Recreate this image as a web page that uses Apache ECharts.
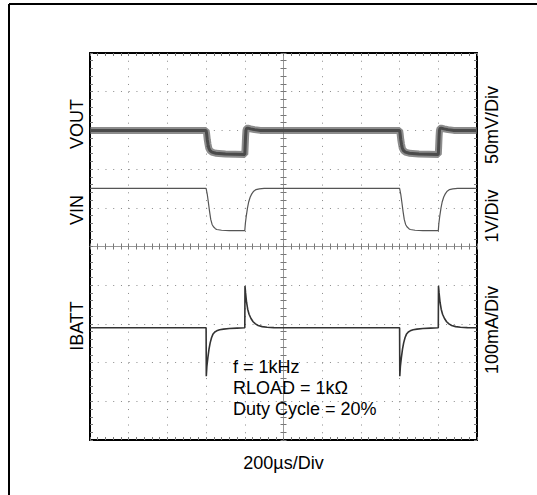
<!DOCTYPE html>
<html>
<head>
<meta charset="utf-8">
<script src="https://cdn.jsdelivr.net/npm/echarts@6/dist/echarts.min.js"></script>
<style>
html,body{margin:0;padding:0;background:#fff;}
#chart{width:537px;height:495px;}
</style>
</head>
<body>
<div id="chart"></div>
<script>
// ---- data (time in µs) ----
var TIME_RANGE = [0, 2000];          // 200 µs/div, 10 div
var VOUT_POINTS = [ // mV (50 mV/div)
  [0,0],[600,0],[603,-5],[606,-12],[610,-18],[614,-23],[620,-26],[630,-28],[650,-29.5],[700,-30.5],[800,-31],
  [802,-20],[804,-8],[806,0],[809,2.5],[815,3],[830,2],[850,1],[880,0],
  [1600,0],[1603,-5],[1606,-12],[1610,-18],[1614,-23],[1620,-26],[1630,-28],[1650,-29.5],[1700,-30.5],[1800,-31],
  [1802,-20],[1804,-8],[1806,0],[1809,2.5],[1815,3],[1830,2],[1850,1],[1880,0],[2000,0]
];
var VIN_POINTS = [ // V (1 V/div)
  [0,3.5],[600,3.5],[606,3.35],[612,3.13],[618,2.9],[624,2.7],[631,2.57],[638,2.51],[648,2.46],[655,2.44],[680,2.42],[720,2.41],[800,2.41],
  [803,2.6],[808,2.8],[814,3.0],[820,3.15],[828,3.28],[836,3.36],[846,3.43],[858,3.47],[875,3.49],[900,3.5],
  [1600,3.5],[1606,3.35],[1612,3.13],[1618,2.9],[1624,2.7],[1631,2.57],[1638,2.51],[1648,2.46],[1655,2.44],[1680,2.42],[1720,2.41],[1800,2.41],
  [1803,2.6],[1808,2.8],[1814,3.0],[1820,3.15],[1828,3.28],[1836,3.36],[1846,3.43],[1858,3.47],[1875,3.49],[1900,3.5],[2000,3.5]
];
var IBATT_POINTS = [ // mA (100 mA/div)
  [0,0],[600,0],[601,-125],[604,-100],[609,-78],[615,-55],[621,-39],[628,-26],[635,-17],[645,-11],[655,-8],[670,-5],[690,-3.5],[720,-2],[760,-1],[800,0],
  [801,108],[804,90],[809,66],[815,48],[822,35],[832,24],[843,15.5],[855,10],[869,6],[890,3],[915,1.5],[950,0.5],[1000,0],
  [1600,0],[1601,-125],[1604,-100],[1609,-78],[1615,-55],[1621,-39],[1628,-26],[1635,-17],[1645,-11],[1655,-8],[1670,-5],[1690,-3.5],[1720,-2],[1760,-1],[1800,0],
  [1801,108],[1804,90],[1809,66],[1815,48],[1822,35],[1832,24],[1843,15.5],[1855,10],[1869,6],[1890,3],[1915,1.5],[1950,0.5],[2000,0]
];
var VOUT_RANGE = [-400, 100];
var VIN_RANGE = [-3, 7];
var IBATT_RANGE = [-290, 710];
var LEFT_LABELS = ['VOUT', 'VIN', 'IBATT'];
var RIGHT_LABELS = ['50mV/Div', '1V/Div', '100mA/Div'];
var NOTE_LINES = ['f = 1kHz', 'RLOAD = 1k\u03A9', 'Duty Cycle = 20%'];
var X_TITLE = '200\u00B5s/Div';

var FONT = 'Liberation Sans, Arial, Helvetica, sans-serif';
var chart = echarts.init(document.getElementById('chart'), null, {renderer: 'svg'});
var G = {left: 90, top: 53, right: 60, bottom: 55};
var H = 495 - G.top - G.bottom;
var W = 537 - G.left - G.right;
var dotted = {color: '#8a8a8a', width: 1, type: [1, W / 50 - 1]};
var border = {show: true, onZero: false, lineStyle: {color: '#000', width: 2}};
var tickIn = {show: true, inside: true, length: 3, lineStyle: {color: '#777', width: 1}};
var tickOut = {show: true, inside: false, length: 3, lineStyle: {color: '#777', width: 1}};
var minorIn = {show: true, splitNumber: 5, length: 3, lineStyle: {color: '#777', width: 1}};
var centerLine = {show: true, onZero: false, lineStyle: {color: '#999', width: 1}};

function timeAxis(extra) {
  return Object.assign({
    type: 'value', min: TIME_RANGE[0], max: TIME_RANGE[1], interval: 200,
    axisLabel: {show: false}, splitLine: {show: false}
  }, extra);
}
function divAxis(extra) {
  return Object.assign({
    type: 'value', min: 0, max: 10, interval: 1,
    axisLabel: {show: false}, splitLine: {show: false}
  }, extra);
}

var option = {
  animation: false,
  backgroundColor: '#fff',
  grid: G,
  xAxis: [
    timeAxis({position: 'bottom', axisLine: border, axisTick: tickIn, minorTick: minorIn,
      splitLine: {show: true, lineStyle: dotted},
      name: X_TITLE, nameLocation: 'middle', nameGap: 14,
      nameTextStyle: {fontSize: 18, fontFamily: FONT, color: '#000'}}),
    timeAxis({position: 'top', axisLine: border, axisTick: tickIn, minorTick: minorIn}),
    timeAxis({position: 'bottom', offset: -H / 2, axisLine: centerLine, axisTick: tickIn, minorTick: minorIn}),
    timeAxis({position: 'bottom', offset: -H / 2, axisLine: {show: false, onZero: false}, axisTick: tickOut, minorTick: minorIn})
  ],
  yAxis: [
    {type: 'value', min: VOUT_RANGE[0], max: VOUT_RANGE[1], interval: 50, position: 'left',
      axisLine: border, axisTick: tickIn, minorTick: minorIn, axisLabel: {show: false},
      splitLine: {show: true, lineStyle: dotted}},
    {type: 'value', min: VIN_RANGE[0], max: VIN_RANGE[1], interval: 1, position: 'right',
      axisLine: border, axisTick: tickIn, minorTick: minorIn, axisLabel: {show: false},
      splitLine: {show: false}},
    {type: 'value', min: IBATT_RANGE[0], max: IBATT_RANGE[1], show: false, axisLine: {onZero: false}},
    divAxis({position: 'left', offset: -W / 2, axisLine: centerLine, axisTick: tickIn, minorTick: minorIn}),
    divAxis({position: 'left', offset: -W / 2, axisLine: {show: false, onZero: false}, axisTick: tickOut, minorTick: minorIn})
  ],
  series: [
    {type: 'line', name: 'VOUT band', data: VOUT_POINTS, yAxisIndex: 0, showSymbol: false, z: 3,
      lineStyle: {color: 'rgba(95,95,95,0.72)', width: 7}},
    {type: 'line', name: 'VOUT', data: VOUT_POINTS, yAxisIndex: 0, showSymbol: false, z: 4,
      lineStyle: {color: '#4a4a4a', width: 3}},
    {type: 'line', name: 'VIN', data: VIN_POINTS, yAxisIndex: 1, showSymbol: false, z: 4,
      lineStyle: {color: '#555', width: 1.2}},
    {type: 'line', name: 'IBATT', data: IBATT_POINTS, yAxisIndex: 2, showSymbol: false, z: 4,
      lineStyle: {color: '#333', width: 1.6}}
  ],
  graphic: [
    {type: 'line', shape: {x1: 9, y1: 4, x2: 537, y2: 4}, style: {stroke: '#000', lineWidth: 2}},
    {type: 'line', shape: {x1: 9, y1: 4, x2: 9, y2: 495}, style: {stroke: '#000', lineWidth: 2}}
  ]
};

var leftY = [124, 210, 326];
var rightY = [125, 216, 330];
LEFT_LABELS.forEach(function (t, i) {
  option.graphic.push({type: 'text', x: 77, y: leftY[i], rotation: Math.PI / 2,
    style: {text: t, fontSize: 18, fontFamily: FONT, fill: '#000', align: 'center', verticalAlign: 'middle'}});
});
RIGHT_LABELS.forEach(function (t, i) {
  option.graphic.push({type: 'text', x: 492, y: rightY[i], rotation: Math.PI / 2,
    style: {text: t, fontSize: 18, fontFamily: FONT, fill: '#000', align: 'center', verticalAlign: 'middle'}});
});
NOTE_LINES.forEach(function (t, i) {
  option.graphic.push({type: 'text', x: 233, y: 367 + i * 21, z: 10,
    style: {text: t, fontSize: 18, fontFamily: FONT, fill: '#000', align: 'left', verticalAlign: 'middle'}});
});

chart.setOption(option);
</script>
</body>
</html>
